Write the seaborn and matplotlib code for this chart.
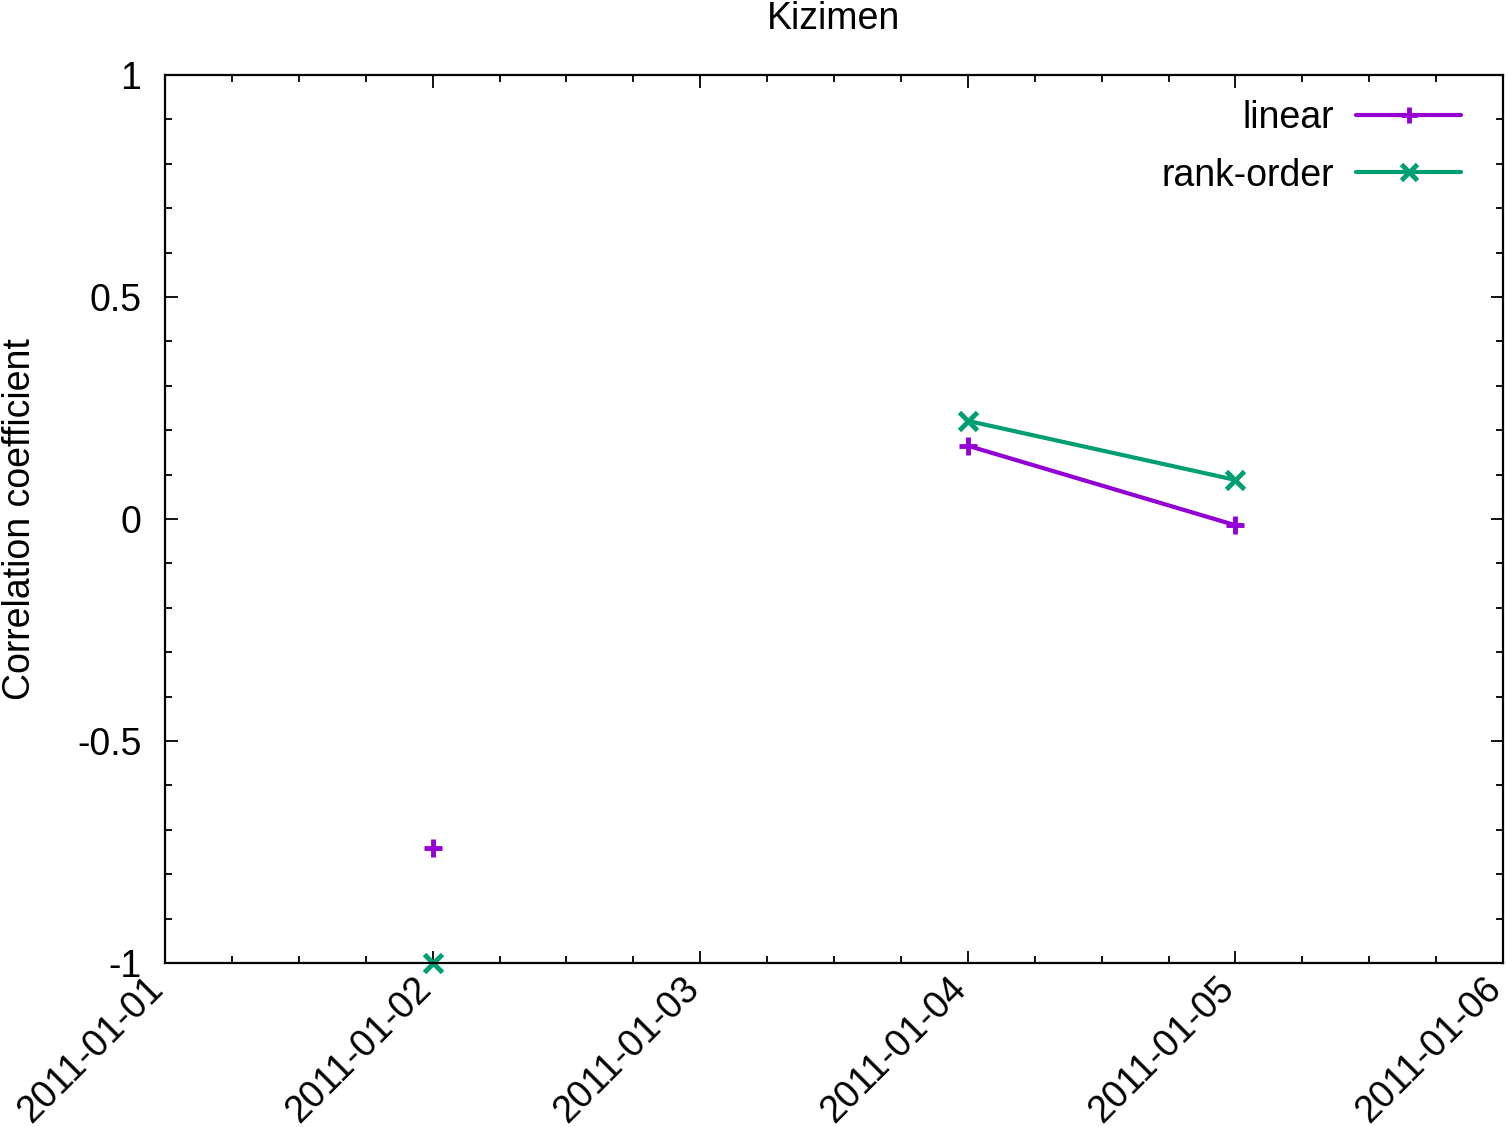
import matplotlib
matplotlib.use("Agg")
import matplotlib.pyplot as plt
import matplotlib.dates as mdates
import matplotlib.transforms as mtransforms
from matplotlib.ticker import MultipleLocator
import pandas as pd
import seaborn as sns

# values
dates = ["2011-01-02", "2011-01-04", "2011-01-05"]
segments = [0, 1, 1]  # no data on 2011-01-03, so the line is broken there
linear = [-0.74, 0.165, -0.014]
rank_order = [-1.0, 0.221, 0.088]

df = pd.concat([
    pd.DataFrame({"date": pd.to_datetime(dates), "r": linear, "seg": segments, "series": "linear"}),
    pd.DataFrame({"date": pd.to_datetime(dates), "r": rank_order, "seg": segments, "series": "rank-order"}),
])
df["unit"] = df["series"] + "_" + df["seg"].astype(str)

sns.set_style("ticks")
plt.rcParams["font.family"] = ["Liberation Sans", "DejaVu Sans"]
plt.rcParams["text.color"] = "black"
plt.rcParams["axes.labelcolor"] = "black"
fs = 27

fig = plt.figure(figsize=(15.07, 11.27), dpi=100)
ax = fig.add_axes([165 / 1507, 1 - 963 / 1127, (1503 - 165) / 1507, (963 - 75) / 1127])

palette = {"linear": "#9400D3", "rank-order": "#009E73"}
sns.lineplot(data=df, x="date", y="r", hue="series", style="series", units="unit",
             estimator=None, palette=palette, markers={"linear": "+", "rank-order": "x"},
             dashes=False, lw=3, markersize=13, ax=ax, legend=False)
# line-art markers come out white from seaborn, give them the line colour
for ln in ax.lines:
    ln.set_markeredgecolor(ln.get_color())
    ln.set_markeredgewidth(3.5)
    ln.set_clip_on(False)

# legend entries in gnuplot style (label then sample)
for name, mk in [("linear", "+"), ("rank-order", "x")]:
    ax.plot([], [], color=palette[name], marker=mk, lw=3, ms=11, mew=3.5, label=name)
leg = ax.legend(loc="upper right", bbox_to_anchor=(1 - 8 / 1338, 1 + 9 / 888),
                frameon=False, markerfirst=False, fontsize=fs,
                handlelength=2.8, labelspacing=0.58, borderaxespad=0.5, handletextpad=0.6)

ax.set_xlim(pd.Timestamp("2011-01-01"), pd.Timestamp("2011-01-06"))
ax.set_ylim(-1, 1)
ax.xaxis.set_major_locator(mdates.DayLocator())
ax.xaxis.set_minor_locator(mdates.HourLocator(byhour=[6, 12, 18]))
ax.xaxis.set_major_formatter(mdates.DateFormatter("%Y-%m-%d"))
ax.yaxis.set_major_locator(MultipleLocator(0.5))
ax.yaxis.set_minor_locator(MultipleLocator(0.1))
ax.yaxis.set_major_formatter(plt.FuncFormatter(lambda v, p: f"{v:g}"))

ax.tick_params(which="both", direction="in", top=True, right=True, width=1.3, colors="black",
               labelsize=fs)
ax.tick_params(which="major", length=9)
ax.tick_params(axis="y", which="major", pad=17)
ax.tick_params(axis="x", which="major", pad=6)
ax.tick_params(which="minor", length=5)
shift = mtransforms.ScaledTranslation(-7 / 100, -12 / 100, fig.dpi_scale_trans)
for lab in ax.get_xticklabels():
    lab.set_rotation(45)
    lab.set_ha("right")
    lab.set_va("center")
    lab.set_rotation_mode("anchor")
    lab.set_transform(lab.get_transform() + shift)
for s in ax.spines.values():
    s.set_linewidth(1.6)
    s.set_color("black")

ax.set_xlabel("")
ax.set_ylabel("Correlation coefficient", fontsize=fs, labelpad=28)
fig.text((165 + 1503) / 2 / 1507, 1 - 29 / 1127, "Kizimen", ha="center", va="baseline", fontsize=fs)

fig.savefig("out.png", dpi=100)
